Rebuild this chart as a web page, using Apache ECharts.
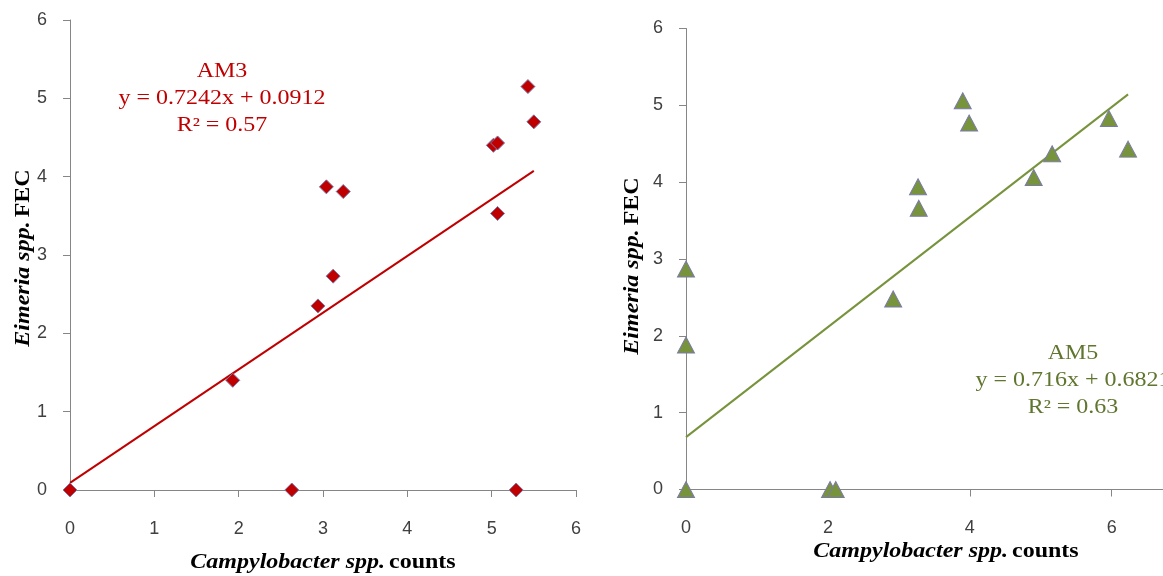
<!DOCTYPE html>
<html>
<head>
<meta charset="utf-8">
<script src="https://cdn.jsdelivr.net/npm/echarts@6/dist/echarts.min.js"></script>
<style>
  html, body { margin: 0; padding: 0; background: #ffffff; }
  #chart { width: 1163px; height: 576px; }
</style>
</head>
<body>
<div id="chart"></div>
<script>
// AM3: Campylobacter counts vs Eimeria FEC
const am3X = [0, 1.93, 2.63, 2.94, 3.12, 3.04, 3.24, 5.02, 5.07, 5.43, 5.50, 5.07, 5.29];
const am3Y = [0, 1.40, 0, 2.35, 2.73, 3.87, 3.81, 4.40, 4.43, 5.15, 4.70, 3.53, 0];
const am3Slope = 0.7242, am3Intercept = 0.0912, am3R2 = '0.57';

// AM5: Campylobacter counts vs Eimeria FEC
const am5X = [0, 0, 0, 2.03, 2.11, 2.92, 3.27, 3.28, 3.90, 3.99, 4.90, 5.16, 5.96, 6.23];
const am5Y = [2.87, 1.88, 0, 0, 0, 2.48, 3.94, 3.66, 5.06, 4.77, 4.06, 4.37, 4.83, 4.43];
const am5Slope = 0.716, am5Intercept = 0.6821, am5R2 = '0.63';

const xTitle = '{it|Campylobacter spp.} {b|counts}';
const yTitle = '{it|Eimeria spp.} {b|FEC}';

const pairs = (xs, ys) => xs.map((x, i) => [x, ys[i]]);
const trend = (xs, a, b) => {
  const x0 = Math.min(...xs), x1 = Math.max(...xs);
  return [[x0, a * x0 + b], [x1, a * x1 + b]];
};
const eqText = (name, a, b, r2) =>
  name + '\ny = ' + a + 'x + ' + b + '\nR\u00B2 = ' + r2;

const axisColor = '#868686';
const tickFont = { fontSize: 18, fontFamily: 'Liberation Sans', color: '#404040' };
const nameRich = {
  it: { fontFamily: 'Liberation Serif', fontSize: 20, fontWeight: 'bold', fontStyle: 'italic', fill: '#000' },
  b: { fontFamily: 'Liberation Serif', fontSize: 20, fontWeight: 'bold', fill: '#000' }
};

function xAxisCfg(gridIndex, max, interval) {
  return {
    gridIndex, type: 'value', min: 0, max, interval,
    axisLine: { show: true, onZero: false, lineStyle: { color: axisColor, width: 1 } },
    axisTick: { show: true, length: 7, lineStyle: { color: axisColor } },
    axisLabel: Object.assign({ margin: 30 }, tickFont),
    splitLine: { show: false }
  };
}
function yAxisCfg(gridIndex) {
  return {
    gridIndex, type: 'value', min: 0, max: 6, interval: 1,
    axisLine: { show: true, onZero: false, lineStyle: { color: axisColor, width: 1 } },
    axisTick: { show: true, length: 7, lineStyle: { color: axisColor } },
    axisLabel: Object.assign({ margin: 23 }, tickFont),
    splitLine: { show: false }
  };
}
// Axis titles, widened slightly to the spacing of the serif face used
function titleText(text, x, y, rotation) {
  return {
    type: 'text', x, y, rotation: rotation || 0, scaleX: 1.2, scaleY: 1,
    style: { text, rich: nameRich, align: 'center', verticalAlign: 'middle',
             textAlign: 'center', textVerticalAlign: 'middle' }
  };
}
// Trendline equation blocks
function eqLabel(text, x, y, color) {
  return {
    type: 'text', x, y, scaleX: 1.2, scaleY: 1,
    style: {
      text, fill: color, font: '20px "Liberation Serif"', lineHeight: 27,
      align: 'center', verticalAlign: 'middle', textAlign: 'center', textVerticalAlign: 'middle'
    }
  };
}

const chart = echarts.init(document.getElementById('chart'), null, { renderer: 'canvas' });
chart.setOption({
  animation: false,
  backgroundColor: '#ffffff',
  grid: [
    { left: 70, top: 20, width: 506, height: 470, outerBoundsMode: 'none', containLabel: false },
    { left: 686, top: 28.5, width: 496.7, height: 461, outerBoundsMode: 'none', containLabel: false }
  ],
  xAxis: [xAxisCfg(0, 6, 1), xAxisCfg(1, 7, 2)],
  yAxis: [yAxisCfg(0), yAxisCfg(1)],
  series: [
    {
      type: 'line', xAxisIndex: 0, yAxisIndex: 0,
      data: trend(am3X, am3Slope, am3Intercept),
      showSymbol: false, silent: true,
      lineStyle: { color: '#C00000', width: 2 }, z: 2
    },
    {
      type: 'scatter', xAxisIndex: 0, yAxisIndex: 0,
      data: pairs(am3X, am3Y),
      symbol: 'diamond', symbolSize: 14,
      itemStyle: { color: '#C00000', opacity: 1, borderColor: '#7A7AA8', borderWidth: 1 }, z: 3
    },
    {
      type: 'line', xAxisIndex: 1, yAxisIndex: 1,
      data: trend(am5X, am5Slope, am5Intercept),
      showSymbol: false, silent: true,
      lineStyle: { color: '#77933C', width: 2 }, z: 2
    },
    {
      type: 'scatter', xAxisIndex: 1, yAxisIndex: 1,
      data: pairs(am5X, am5Y),
      symbol: 'triangle', symbolSize: [17, 16],
      itemStyle: { color: '#77933C', opacity: 1, borderColor: '#7A7AA8', borderWidth: 1 }, z: 3
    }
  ],
  graphic: [
    titleText(xTitle, 323, 563),
    titleText(xTitle, 946, 552),
    titleText(yTitle, 24, 258, Math.PI / 2),
    titleText(yTitle, 633, 266, Math.PI / 2),
    eqLabel(eqText('AM3', am3Slope, am3Intercept, am3R2), 222, 99, '#C00000'),
    eqLabel(eqText('AM5', am5Slope, am5Intercept, am5R2), 1073, 381, '#60762F')
  ]
});
</script>
</body>
</html>
